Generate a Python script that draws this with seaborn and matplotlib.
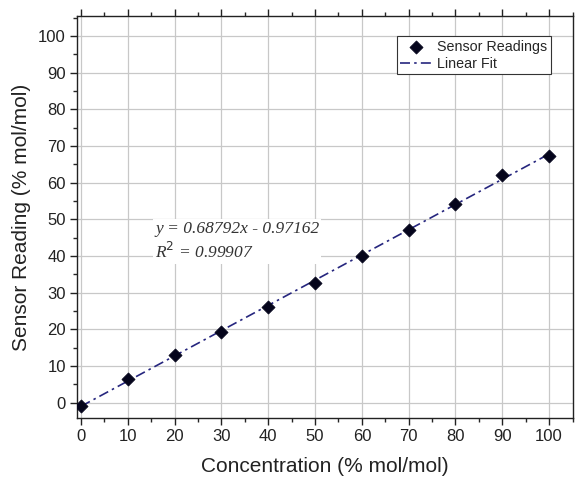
import numpy as np
import pandas as pd
import matplotlib
matplotlib.use("Agg")
import matplotlib.pyplot as plt
import seaborn as sns
from matplotlib.ticker import MultipleLocator

# Data
concentration = [0, 10, 20, 30, 40, 50, 60, 70, 80, 90, 100]
sensor_reading = [-1.0, 6.5, 13.0, 19.3, 26.0, 32.7, 40.0, 47.0, 54.2, 62.0, 67.3]
fit_x = [0, 100]
fit_y = [-0.97, 67.82]
equation_text = "y = 0.68792x - 0.97162"
r2_text = "R$^2$ = 0.99907"
x_label = "Concentration (% mol/mol)"
y_label = "Sensor Reading (% mol/mol)"

sns.set_theme(style="ticks")
plt.rcParams['font.family'] = ['Liberation Sans', 'DejaVu Sans']

fig = plt.figure(figsize=(5.75, 4.79), dpi=100)
ax = fig.add_axes([0.134, 0.1273, 0.8625, 0.8393])

df_pts = pd.DataFrame({"x": concentration, "y": sensor_reading})
df_fit = pd.DataFrame({"x": fit_x, "y": fit_y})

sns.lineplot(data=df_fit, x="x", y="y", ax=ax, color="#26267e", linewidth=1.2,
             label="Linear Fit", zorder=3)
ax.lines[-1].set_dashes([6, 2.5, 1.5, 2.5])
sns.scatterplot(data=df_pts, x="x", y="y", ax=ax, marker="D", s=45, color="#05051c",
                edgecolor="#05051c", linewidth=0.5, label="Sensor Readings", zorder=4)

ax.set_xlim(-0.85, 105.1)
ax.set_ylim(-4.17, 105.45)
ax.xaxis.set_minor_locator(MultipleLocator(5))
ax.yaxis.set_minor_locator(MultipleLocator(5))
ax.set_xticks(np.arange(0, 101, 10))
ax.set_yticks(np.arange(0, 101, 10))
ax.grid(True, which="major", color="#c8c8c8", linewidth=0.9)
ax.set_axisbelow(True)

for s in ax.spines.values():
    s.set_visible(True)
    s.set_color("#222222")
    s.set_linewidth(1.0)

ax.tick_params(which="major", direction="out", length=5, width=1, labelsize=12,
               colors="#222222", top=True, right=False, pad=3)
ax.tick_params(which="minor", direction="out", length=3, width=1, top=True, right=False)
ax.tick_params(axis="both", labelcolor="#222222")

ax.set_xlabel(x_label, fontsize=15, color="#222222", labelpad=9)
ax.set_ylabel(y_label, fontsize=15, color="#222222", labelpad=5)

ax.text(15.8, 44.0, equation_text + "\n" + r2_text, fontsize=12.5, fontstyle="italic",
        family=["Liberation Serif", "DejaVu Serif"], color="#333333",
        va="center", ha="left", linespacing=1.3,
        bbox=dict(facecolor="white", edgecolor="none", pad=1.5), zorder=5)

handles, labels = ax.get_legend_handles_labels()
order = [labels.index("Sensor Readings"), labels.index("Linear Fit")]
leg = ax.legend([handles[i] for i in order], [labels[i] for i in order],
                loc="upper right", bbox_to_anchor=(0.956, 0.95), fontsize=10.3,
                frameon=True, fancybox=False, framealpha=1, edgecolor="#333333",
                borderpad=0.25, labelspacing=0.2, handlelength=2.2, handletextpad=0.4,
                borderaxespad=0)
leg.get_frame().set_linewidth(0.8)

fig.savefig("out.png", dpi=100)
